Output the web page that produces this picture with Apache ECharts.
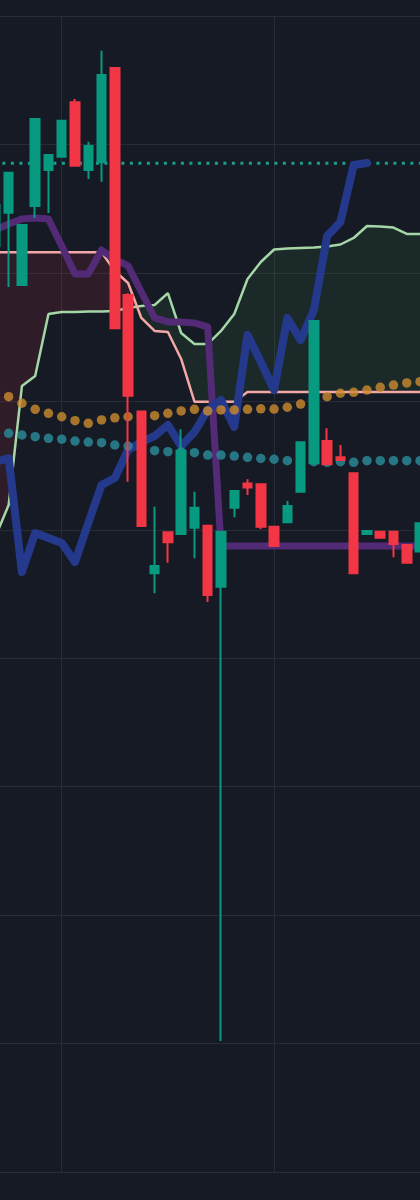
<!DOCTYPE html>
<html>
<head>
<meta charset="utf-8">
<script src="https://cdn.jsdelivr.net/npm/echarts@6/dist/echarts.min.js"></script>
<style>
html,body{margin:0;padding:0;background:#161a25;}
#chart{width:420px;height:1200px;}
</style>
</head>
<body>
<div id="chart"></div>
<script>
// ---- data (x index of the first visible bar, then one value per bar) ----
const firstIndex = 11;
const opens  = [720.9,746.9,690.6,752.1,780.1,790.5,832.8,780.1,786.1,859.5,682.8,592.0,466.1,498.0,496.7,501.6,503.2,455.7,517.2,536.0,535.4,502.4,505.8,529.6,551.7,569.1,556.4,544.0,496.7,498.5,498.5,488.2,483.0];
const closes = [752.9,778.0,737.3,819.8,791.8,818.5,783.4,798.8,854.1,656.9,604.4,502.9,471.8,490.2,561.6,517.2,449.2,498.5,530.2,532.9,502.4,487.4,518.5,568.1,662.5,551.0,554.3,466.1,499.0,493.8,488.9,474.4,505.0];
const lows   = [720.9,689.0,690.6,742.7,746.6,790.5,783.4,773.1,771.0,656.9,537.4,502.9,450.5,474.4,496.7,477.8,443.8,102.0,509.7,527.1,500.4,487.4,505.8,529.6,551.7,551.0,554.3,466.1,496.7,493.8,478.6,474.4,483.0];
const highs  = [752.9,778.0,737.3,819.8,791.8,818.5,835.4,802.1,873.0,859.5,684.1,592.5,518.0,498.0,578.2,529.6,503.2,498.5,530.2,539.3,535.4,502.4,522.4,568.1,662.5,579.0,566.0,544.0,499.0,498.5,498.5,488.2,505.0];

const baseLine     = [733.4,738.1,742.0,742.7,742.0,720.9,699.1,699.1,717.8,710.8,705.4,685.1,664.9,661.8,661.8,661.0,657.9,
                      487.4,487.4,487.4,487.4,487.4,487.4,487.4,487.4,487.4,487.4,487.4,487.4,487.4,487.4,487.4,487.4];
const laggingSpan  = [552.8,555.9,467.1,497.5,493.6,489.7,474.9,505.3,534.9,540.3,562.1,568.3,573.0,581.6,565.2,576.1,593.3,601.0,580.0,651.6,630.6,608.8,664.9,647.7,671.1,728.7,739.6,784.0,785.6];
const leadingSpanA = [494.4,519.3,611.9,619.7,668.0,669.5,669.5,669.9,669.9,670.3,672.7,674.2,675.0,684.3,653.2,644.6,644.6,654.8,668.0,695.2,708.5,718.2,718.9,719.3,719.7,720.5,722.1,727.2,736.5,736.1,735.3,730.3,730.3];
const leadingSpanB = [716.0,716.0,716.0,716.0,716.0,716.0,716.0,716.0,716.0,701.5,692.1,664.9,654.8,654.0,633.0,599.7,599.7,599.7,599.7,
                      607.3,607.3,607.3,607.3,607.3,607.3,607.3,607.3,607.3,607.3,607.3,607.3,607.3,607.3];
const orangeDots   = [608.0,603.6,598.5,593.8,590.7,588.0,584.9,582.9,585.5,587.2,588.0,588.6,588.8,590.7,592.5,593.8,592.5,593.3,593.3,593.8,594.2,594.0,595.4,597.9,600.6,603.6,606.3,607.0,608.8,610.9,612.7,614.3,615.3];
const tealDots     = [575.7,575.1,573.8,572.5,571.2,570.5,569.1,568.3,567.8,566.0,565.2,563.7,561.6,560.8,560.6,560.0,558.2,558.2,557.4,556.4,555.5,554.9,553.8,553.8,553.0,552.5,553.0,552.5,553.8,553.8,553.8,553.8,553.8];
const lastPrice = 785.3;

const xMin = 0, xMax = 48, xStep = 16;
const yMin = 0, yMax = 900, yStep = 100;

// ---- build series data ----
const pairs = arr => arr.map((v, j) => [firstIndex + j, v]);
const candleData = opens.map((o, j) => [firstIndex + j, o, closes[j], lows[j], highs[j]]);

function buildCloudRegions() {
  const regions = [];
  let cur = null;
  for (let j = 0; j < leadingSpanA.length; j++) {
    const x = firstIndex + j, a = leadingSpanA[j], b = leadingSpanB[j];
    const s = a >= b ? 1 : -1;
    if (!cur) { cur = { sign: s, pts: [[x, a, b]] }; continue; }
    if (s === cur.sign) { cur.pts.push([x, a, b]); }
    else {
      const pa = leadingSpanA[j - 1], pb = leadingSpanB[j - 1];
      const d0 = pa - pb, d1 = a - b, t = d0 / (d0 - d1);
      const xc = x - 1 + t, vc = pa + (a - pa) * t;
      cur.pts.push([xc, vc, vc]);
      regions.push(cur);
      cur = { sign: s, pts: [[xc, vc, vc], [x, a, b]] };
    }
  }
  regions.push(cur);
  return regions;
}
const cloudRegions = buildCloudRegions();

const chart = echarts.init(document.getElementById('chart'), null, { renderer: 'canvas' });

const hiddenAxis = {
  axisLine: { show: false }, axisTick: { show: false }, axisLabel: { show: false },
  splitLine: { show: true, lineStyle: { color: '#282c37', width: 1 } }
};

const option = {
  backgroundColor: '#161a25',
  animation: false,
  grid: { left: -150.6, right: -66.4, top: 16, bottom: 28, containLabel: false, outerBoundsMode: 'none' },
  xAxis: Object.assign({ type: 'value', min: xMin, max: xMax, interval: xStep }, hiddenAxis),
  yAxis: Object.assign({ type: 'value', min: yMin, max: yMax, interval: yStep, scale: false }, hiddenAxis),
  series: [
    {
      type: 'custom', name: 'cloud', z: 1,
      data: cloudRegions.map((r, i) => [r.pts[0][0], r.pts[0][1], i]),
      encode: { x: 0, y: 1 },
      renderItem: function (params, api) {
        const r = cloudRegions[params.dataIndex];
        const upper = r.pts.map(p => api.coord([p[0], p[1]]));
        const lower = r.pts.slice().reverse().map(p => api.coord([p[0], p[2]]));
        return {
          type: 'polygon',
          shape: { points: upper.concat(lower) },
          style: { fill: r.sign > 0 ? 'rgba(76,175,80,0.11)' : 'rgba(242,54,69,0.11)' }
        };
      }
    },
    { type: 'line', name: 'Leading Span A', z: 2, data: pairs(leadingSpanA), showSymbol: false,
      lineStyle: { color: '#a5d6a7', width: 2.5 } },
    { type: 'line', name: 'Leading Span B', z: 2, data: pairs(leadingSpanB), showSymbol: false,
      lineStyle: { color: '#f4a7a7', width: 2.5 } },
    { type: 'line', name: 'Price', z: 2, data: [[xMin, lastPrice], [xMax, lastPrice]], showSymbol: false,
      lineStyle: { color: '#1aa08e', width: 3, type: [3, 5.5] } },
    { type: 'line', name: 'Base', z: 3, data: pairs(baseLine), showSymbol: false,
      lineStyle: { color: '#522a76', width: 7, cap: 'round', join: 'round' } },
    { type: 'line', name: 'Lagging', z: 3, data: pairs(laggingSpan), showSymbol: false,
      lineStyle: { color: '#24398c', width: 8, cap: 'round', join: 'round' } },
    { type: 'scatter', name: 'MA1', z: 4, data: pairs(orangeDots), symbolSize: 9.5,
      itemStyle: { color: '#cc8b2e' } },
    { type: 'scatter', name: 'MA2', z: 4, data: pairs(tealDots), symbolSize: 9.5,
      itemStyle: { color: '#2a8d9b' } },
    { type: 'candlestick', name: 'Candles', z: 5, data: candleData,
      encode: { x: 0, y: [1, 2, 3, 4] }, barWidth: 9,
      itemStyle: { color: '#089981', color0: '#f23645', borderColor: '#089981', borderColor0: '#f23645', borderWidth: 2 } }
  ]
};
chart.setOption(option);
</script>
</body>
</html>
